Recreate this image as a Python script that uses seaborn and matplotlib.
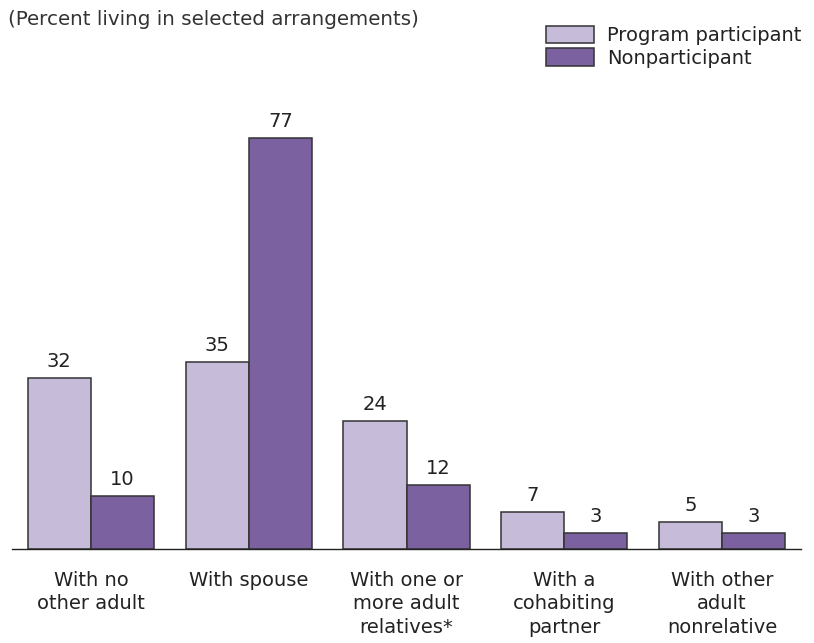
import matplotlib
matplotlib.use("Agg")
import matplotlib.pyplot as plt
import seaborn as sns
import pandas as pd
from matplotlib.patches import Patch

categories = ["With no\nother adult", "With spouse", "With one or\nmore adult\nrelatives*",
              "With a\ncohabiting\npartner", "With other\nadult\nnonrelative"]
series = ["Program participant", "Nonparticipant"]
participant = [32, 35, 24, 7, 5]
nonparticipant = [10, 77, 12, 3, 3]
colors = ["#c6bcd9", "#7b61a0"]

df = pd.DataFrame({
    "cat": categories * 2,
    "series": [series[0]] * 5 + [series[1]] * 5,
    "value": participant + nonparticipant,
})

sns.set_style("white")
plt.rcParams["font.family"] = ["DejaVu Sans"]

fig = plt.figure(figsize=(8.14, 6.43), dpi=100)
ax = fig.add_axes([12/814, (643-549)/643, (801-12)/814, 0.664])

sns.barplot(data=df, x="cat", y="value", hue="series", order=categories,
            hue_order=series, palette=colors, width=0.8, ax=ax, saturation=1,
            edgecolor="#333333", linewidth=1.1, legend=False)

ax.set_xlim(-0.5, 4.5)
ax.set_ylim(0, 80)
ax.set_xlabel("")
ax.set_ylabel("")
ax.set_yticks([])
for s in ["top", "right", "left"]:
    ax.spines[s].set_visible(False)
ax.spines["bottom"].set_color("#222222")
ax.spines["bottom"].set_linewidth(1.0)
ax.tick_params(axis="x", length=0, pad=15.5, labelsize=14, colors="#222222")
for lbl in ax.get_xticklabels():
    lbl.set_linespacing(1.33)

for cont in ax.containers:
    ax.bar_label(cont, labels=[f"{v:.0f}" for v in cont.datavalues], padding=5,
                 fontsize=14, color="#222222")

fig.text(8/814, 1 - 25/643, "(Percent living in selected arrangements)", fontsize=14.3,
         color="#333333", va="baseline", ha="left")

handles = [Patch(facecolor=c, edgecolor="#333333", linewidth=1.1) for c in colors]
fig.legend(handles, series, loc="upper left", bbox_to_anchor=(546/814, 1 - 26/643),
           frameon=False, prop={"size": 14}, handlelength=2.47, handleheight=1.0,
           handletextpad=0.65, labelspacing=0.15, borderpad=0, borderaxespad=0,
           labelcolor="#222222")

fig.savefig("out.png", dpi=100)
